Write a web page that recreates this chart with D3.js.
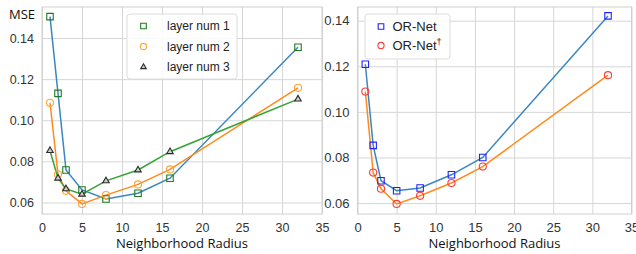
<!DOCTYPE html>
<html>
<head>
<meta charset="utf-8">
<script src="https://cdn.jsdelivr.net/npm/d3@7"></script>
<style>
  body { margin: 0; background: #fff; }
  .tick text { font-family: "Liberation Sans", Arial, sans-serif; fill: #333; }
  .axisText { font-family: "Open Sans", sans-serif; font-size: 13px; fill: #111; }
  .legendText { font-family: "Liberation Sans", Arial, sans-serif; fill: #222; }
</style>
</head>
<body>
<div class="chart"></div>
<script>
// data
var radius = [1, 2, 3, 5, 8, 12, 16, 32];
var layer1 = [0.1504, 0.1131, 0.0758, 0.0661, 0.0617, 0.0645, 0.0718, 0.1355];
var layer2 = [0.1085, 0.0737, 0.0657, 0.0593, 0.0636, 0.0688, 0.0761, 0.1158];
var layer3 = [0.0852, 0.0718, 0.0666, 0.0640, 0.0705, 0.0758, 0.0847, 0.1103];
var orNet = [0.1209, 0.0853, 0.0698, 0.0654, 0.0666, 0.0724, 0.0800, 0.1421];
var orNetDagger = [0.1089, 0.0734, 0.0663, 0.0596, 0.0632, 0.0688, 0.0760, 0.1161];
var xTicks = [0, 5, 10, 15, 20, 25, 30, 35];
var yTicks = [0.06, 0.08, 0.10, 0.12, 0.14];

var svgWidth = 636;
var svgHeight = 254;

var svg = d3.select(".chart")
    .append("svg")
    .attr("width", svgWidth)
    .attr("height", svgHeight);

function drawPanel(p) {
    var xScale = d3.scaleLinear().domain([0, 35]).range([p.left, p.right]);
    var yScale = d3.scaleLinear().domain(p.yDomain).range([p.bottom, p.top]);
    var g = svg.append("g");

    // grid
    g.append("g")
        .attr("transform", `translate(0, ${p.bottom})`)
        .call(d3.axisBottom(xScale).tickValues(xTicks).tickSize(-(p.bottom - p.top)).tickFormat(""))
        .call(a => a.select(".domain").remove())
        .selectAll("line").attr("stroke", "#d6d6d6");
    g.append("g")
        .attr("transform", `translate(${p.left}, 0)`)
        .call(d3.axisLeft(yScale).tickValues(yTicks).tickSize(-(p.right - p.left)).tickFormat(""))
        .call(a => a.select(".domain").remove())
        .selectAll("line").attr("stroke", "#d6d6d6");

    g.append("rect")
        .attr("x", p.left).attr("y", p.top)
        .attr("width", p.right - p.left).attr("height", p.bottom - p.top)
        .attr("fill", "none").attr("stroke", "#cfcfcf");

    // tick labels
    var bx = g.append("g")
        .attr("transform", `translate(0, ${p.bottom})`)
        .call(d3.axisBottom(xScale).tickValues(xTicks).tickSize(0).tickPadding(9).tickFormat(d3.format("d")));
    bx.select(".domain").remove();
    bx.selectAll("text").attr("font-size", p.font);

    var ly = g.append("g")
        .attr("transform", `translate(${p.left}, 0)`)
        .call(d3.axisLeft(yScale).tickValues(yTicks).tickSize(0).tickPadding(8).tickFormat(d3.format(".2f")));
    ly.select(".domain").remove();
    ly.selectAll("text").attr("font-size", p.font);

    g.append("text")
        .attr("class", "axisText")
        .attr("x", (p.left + p.right) / 2)
        .attr("y", 248)
        .attr("text-anchor", "middle")
        .text("Neighborhood Radius");

    var line = d3.line()
        .x((d, i) => xScale(radius[i]))
        .y(d => yScale(d));

    p.series.forEach(function(s) {
        g.append("path")
            .datum(s.values)
            .attr("fill", "none")
            .attr("stroke", s.line)
            .attr("stroke-width", 1.5)
            .attr("d", line);
    });
    p.series.forEach(function(s) {
        g.selectAll(null)
            .data(s.values)
            .enter()
            .append("path")
            .attr("transform", (d, i) => `translate(${xScale(radius[i])}, ${yScale(d)})`)
            .attr("d", d3.symbol().type(s.shape).size(s.size))
            .attr("fill", s.fill)
            .attr("stroke", s.marker)
            .attr("stroke-width", 1.1);
    });

    // legend
    var lg = g.append("g");
    lg.append("rect")
        .attr("x", p.legend.x).attr("y", p.legend.y)
        .attr("width", p.legend.w).attr("height", p.legend.h)
        .attr("rx", 3)
        .attr("fill", "#fff").attr("fill-opacity", 0.85)
        .attr("stroke", "#dcdcdc");
    p.series.forEach(function(s, i) {
        var cy = p.legend.y + p.legend.first + i * p.legend.step;
        lg.append("path")
            .attr("transform", `translate(${p.legend.x + p.legend.mx}, ${cy})`)
            .attr("d", d3.symbol().type(s.shape).size(s.size * 0.75))
            .attr("fill", s.fill)
            .attr("stroke", s.marker)
            .attr("stroke-width", 1.1);
        var t = lg.append("text")
            .attr("class", "legendText")
            .attr("font-size", p.legend.font)
            .attr("x", p.legend.x + p.legend.tx)
            .attr("y", cy)
            .attr("dy", "0.35em")
            .text(s.name);
        if (s.sup) {
            t.append("tspan")
                .attr("baseline-shift", "super")
                .attr("font-size", p.legend.font * 0.7)
                .text(s.sup);
        }
    });
}

drawPanel({
    left: 42, right: 322, top: 7, bottom: 214,
    yDomain: [0.0544, 0.1551],
    font: 12.5,
    series: [
        { name: "layer num 1", values: layer1, line: "#3a87c0", marker: "#1e7a1e", fill: "none", shape: d3.symbolSquare, size: 42 },
        { name: "layer num 2", values: layer2, line: "#ff8a1c", marker: "#ffa53a", fill: "none", shape: d3.symbolCircle, size: 40 },
        { name: "layer num 3", values: layer3, line: "#36a336", marker: "#2a2a2a", fill: "#cfcfcf", shape: d3.symbolTriangle, size: 18 }
    ],
    legend: { x: 127, y: 14, w: 110, h: 65, first: 12, step: 20.5, mx: 16.5, tx: 40, font: 12 }
});

drawPanel({
    left: 357.5, right: 631.5, top: 7, bottom: 214,
    yDomain: [0.0552, 0.146],
    font: 13,
    series: [
        { name: "OR-Net", values: orNet, line: "#3a87c0", marker: "#2222ff", fill: "none", shape: d3.symbolSquare, size: 42 },
        { name: "OR-Net", sup: "\u2020", values: orNetDagger, line: "#ff8a1c", marker: "#ff3b3b", fill: "none", shape: d3.symbolCircle, size: 40 }
    ],
    legend: { x: 365, y: 14, w: 85, h: 45, first: 12.5, step: 19, mx: 16, tx: 27.5, font: 13 }
});

svg.append("text")
    .attr("class", "axisText")
    .attr("x", 9)
    .attr("y", 19)
    .attr("font-size", 13)
    .text("MSE");
</script>
</body>
</html>
